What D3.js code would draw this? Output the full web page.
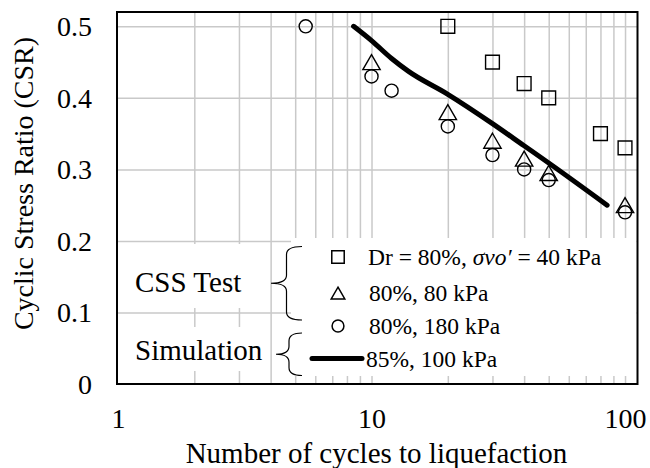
<!DOCTYPE html>
<html>
<head>
<meta charset="utf-8">
<script src="https://cdn.jsdelivr.net/npm/d3@7"></script>
<style>
  body { margin: 0; background: #fff; }
  text { font-family: "Liberation Serif", "Times New Roman", serif; fill: #000; }
</style>
</head>
<body>
<div id="chart-area"></div>
<script>
// data
var squareN = [20, 30, 40, 50, 80, 100];
var squareCSR = [0.5, 0.45, 0.42, 0.40, 0.35, 0.33];
var triangleN = [10, 20, 30, 40, 50, 100];
var triangleCSR = [0.45, 0.38, 0.34, 0.315, 0.295, 0.25];
var circleN = [5.5, 10, 12, 20, 30, 40, 50, 100];
var circleCSR = [0.5, 0.43, 0.41, 0.36, 0.32, 0.30, 0.285, 0.24];
var simN = [8.5, 10, 12, 14, 20, 30, 40, 50, 85];
var simCSR = [0.5, 0.48, 0.455, 0.437, 0.405, 0.364, 0.333, 0.309, 0.25];
var xTicks = [1, 10, 100];
var yTicks = [0, 0.1, 0.2, 0.3, 0.4, 0.5];
var legendLabels = ["80%, 80 kPa", "80%, 180 kPa", "85%, 100 kPa"];

var W = 650, H = 468;
var plotLeft = 118, plotRight = 637.5, plotTop = 12, plotBottom = 384;

var svg = d3.select("#chart-area")
    .append("svg")
    .attr("width", W)
    .attr("height", H);

var x = d3.scaleLog().domain([1, 112]).range([plotLeft, plotRight]);
var y = d3.scaleLinear().domain([0, 0.52]).range([plotBottom, plotTop]);

// gridlines
var gridX = [];
[1, 10].forEach(function(dec) {
    for (var k = 2; k <= 9; k++) gridX.push(k * dec);
    gridX.push(dec * 10);
});

var gx = svg.append("g")
    .attr("transform", "translate(0," + plotBottom + ")")
    .call(d3.axisBottom(x).tickValues(gridX).tickSize(-(plotBottom - plotTop)).tickFormat(""));
gx.select(".domain").remove();
gx.selectAll("line").attr("stroke", "#c9c9c9").attr("stroke-width", 1.5);

var gy = svg.append("g")
    .attr("transform", "translate(" + plotLeft + ",0)")
    .call(d3.axisLeft(y).tickValues(yTicks.slice(1)).tickSize(-(plotRight - plotLeft)).tickFormat(""));
gy.select(".domain").remove();
gy.selectAll("line").attr("stroke", "#c9c9c9").attr("stroke-width", 1.5);

// tick labels
var xa = svg.append("g")
    .attr("transform", "translate(0," + plotBottom + ")")
    .call(d3.axisBottom(x).tickValues(xTicks).tickFormat(d3.format("d")).tickSize(0));
xa.select(".domain").remove();
xa.selectAll("text")
    .attr("y", 44)
    .attr("dy", 0)
    .attr("font-size", 28)
    .attr("font-family", "Liberation Serif, serif");

var ya = svg.append("g")
    .attr("transform", "translate(" + plotLeft + ",0)")
    .call(d3.axisLeft(y).tickValues(yTicks).tickFormat(d => d === 0 ? "0" : d3.format(".1f")(d)).tickSize(0));
ya.select(".domain").remove();
ya.selectAll("text")
    .attr("x", -26)
    .attr("dy", "0.34em")
    .attr("font-size", 28)
    .attr("font-family", "Liberation Serif, serif");

// legend backgrounds (drawn over the grid)
svg.append("rect").attr("x", 119).attr("y", 244).attr("width", 148).attr("height", 64).attr("fill", "#fff");
svg.append("rect").attr("x", 119).attr("y", 327).attr("width", 148).attr("height", 44).attr("fill", "#fff");
svg.append("rect").attr("x", 291).attr("y", 238).attr("width", plotRight - 292).attr("height", 138).attr("fill", "#fff");

// simulation line
var line = d3.line()
    .x(d => x(d[0]))
    .y(d => y(d[1]))
    .curve(d3.curveMonotoneX);

svg.append("path")
    .datum(d3.zip(simN, simCSR))
    .attr("d", line)
    .attr("fill", "none")
    .attr("stroke", "#000")
    .attr("stroke-width", 5)
    .attr("stroke-linecap", "round");

// markers
function drawMarkers(ns, vs, type, size, dy) {
    svg.selectAll(null)
        .data(d3.zip(ns, vs))
        .enter()
        .append("path")
        .attr("d", d3.symbol().type(type).size(size))
        .attr("transform", d => "translate(" + x(d[0]) + "," + (y(d[1]) + dy) + ")")
        .attr("fill", "none")
        .attr("stroke", "#000")
        .attr("stroke-width", 1.4);
}
drawMarkers(squareN, squareCSR, d3.symbolSquare, 190, 0);
drawMarkers(triangleN, triangleCSR, d3.symbolTriangle, 130, 2.5);
drawMarkers(circleN, circleCSR, d3.symbolCircle, 135, 0);

// plot border
svg.append("rect")
    .attr("x", plotLeft - 1)
    .attr("y", plotTop)
    .attr("width", plotRight - plotLeft + 1)
    .attr("height", plotBottom - plotTop)
    .attr("fill", "none")
    .attr("stroke", "#000")
    .attr("stroke-width", 2);

// legend
var lx = 338;
var rows = [257, 293, 326, 358.5];

svg.append("path").attr("d", d3.symbol().type(d3.symbolSquare).size(155))
    .attr("transform", "translate(" + lx + "," + rows[0] + ")")
    .attr("fill", "none").attr("stroke", "#000").attr("stroke-width", 1.5);
svg.append("path").attr("d", d3.symbol().type(d3.symbolTriangle).size(80))
    .attr("transform", "translate(" + lx + "," + (rows[1] + 2) + ")")
    .attr("fill", "none").attr("stroke", "#000").attr("stroke-width", 1.5);
svg.append("path").attr("d", d3.symbol().type(d3.symbolCircle).size(110))
    .attr("transform", "translate(" + lx + "," + rows[2] + ")")
    .attr("fill", "none").attr("stroke", "#000").attr("stroke-width", 1.5);
svg.append("line")
    .attr("x1", 312).attr("x2", 362)
    .attr("y1", rows[3]).attr("y2", rows[3])
    .attr("stroke", "#000").attr("stroke-width", 5).attr("stroke-linecap", "round");

var t0 = svg.append("text")
    .attr("x", 368).attr("y", rows[0] + 8)
    .attr("font-size", 23.5);
t0.append("tspan").text("Dr = 80%, ");
t0.append("tspan").attr("font-style", "italic").text("σvo′");
t0.append("tspan").text(" = 40 kPa");

legendLabels.forEach(function(lab, i) {
    svg.append("text")
        .attr("x", i === 2 ? 366 : 369)
        .attr("y", rows[i + 1] + 8)
        .attr("font-size", 23.5)
        .text(lab);
});

svg.append("text").attr("x", 135).attr("y", 292).attr("font-size", 29).text("CSS Test");
svg.append("text").attr("x", 135).attr("y", 360).attr("font-size", 29).text("Simulation");

// braces
function brace(xr, xt, y0, y1) {
    var xm = (xr + xt) / 2, ym = (y0 + y1) / 2, q = 8;
    return "M" + xr + "," + y0 +
        "Q" + xm + "," + y0 + " " + xm + "," + (y0 + q) +
        "L" + xm + "," + (ym - q) +
        "Q" + xm + "," + ym + " " + xt + "," + ym +
        "Q" + xm + "," + ym + " " + xm + "," + (ym + q) +
        "L" + xm + "," + (y1 - q) +
        "Q" + xm + "," + y1 + " " + xr + "," + y1;
}
svg.append("path").attr("d", brace(302, 271, 246.5, 320))
    .attr("fill", "none").attr("stroke", "#000").attr("stroke-width", 1.2);
svg.append("path").attr("d", brace(302, 276, 333, 375.5))
    .attr("fill", "none").attr("stroke", "#000").attr("stroke-width", 1.2);

// axis titles
svg.append("text")
    .attr("x", 376.5).attr("y", 463)
    .attr("text-anchor", "middle")
    .attr("font-size", 29)
    .text("Number of cycles to liquefaction");

svg.append("text")
    .attr("transform", "translate(33,183.5) rotate(-90)")
    .attr("text-anchor", "middle")
    .attr("font-size", 28)
    .text("Cyclic Stress Ratio (CSR)");
</script>
</body>
</html>
